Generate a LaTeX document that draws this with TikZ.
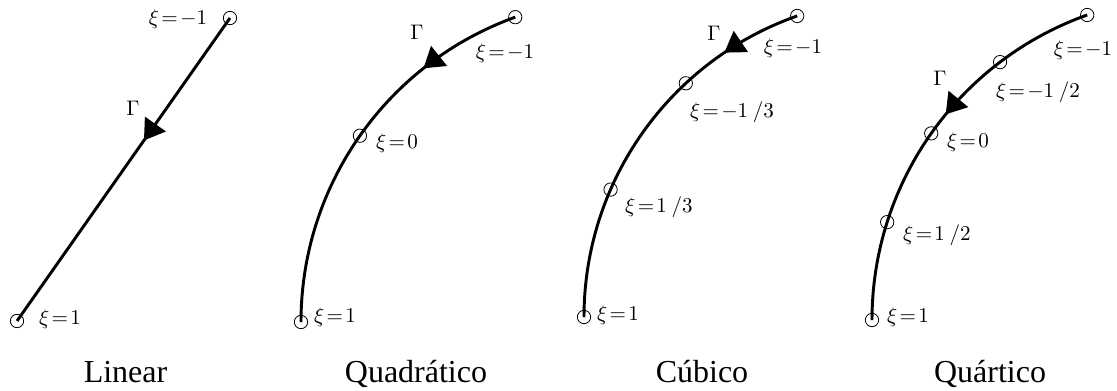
\documentclass[tikz,border=0pt]{standalone}
\usepackage{fontspec}
\newfontfamily\capfont{Liberation Serif}
\usetikzlibrary{arrows.meta,decorations.markings,calc}
\newcommand{\xeq}[1]{$\xi\mkern2mu{=}\mkern2mu#1$}
\newcommand{\fr}[2]{#1\mkern4mu/#2}
\begin{document}
\begin{tikzpicture}[x=0.75pt,y=-0.75pt,
  pt/.style={circle,draw,line width=0.6pt,inner sep=0pt,minimum size=10pt},
  curve/.style={line width=2.2pt},
  lbl/.style={font=\normalsize,inner sep=0pt,scale=1.58},
  captxt/.style={font=\capfont\fontsize{24}{28}\selectfont,anchor=base,inner sep=0pt},
  tri/.style={postaction={decorate},decoration={markings,mark=at position #1 with {\arrow{Triangle[length=15pt,width=18.75pt]}}}}
]
\useasboundingbox (0,0) rectangle (1117,390);

% ---------- Linear ----------
\node[pt] (a1) at (230,18) {};
\node[pt] (a0) at (17,321) {};
\draw[curve,tri=0.404] (a1.center) -- (a0.center);
\node[lbl] (la1) at (178,19) {\xeq{{-}1}};
\node[lbl] (la0) at (60,319) {\xeq{1}};
\node[lbl] (ga) at (133,108) {$\Gamma$};
\node[captxt] (ca) at (125.5,382) {Linear};

% ---------- Quadratico ----------
\coordinate (c2) at (625,322);
\node[pt] (b1) at ([shift={(250.2:324)}]c2) {};
\node[pt] (bm) at ([shift={(215.1:324)}]c2) {};
\node[pt] (b0) at ([shift={(180:324)}]c2) {};
\draw[curve,tri=0.266] (b1.center) arc[start angle=250.2,end angle=180,radius=324];
\node[lbl] (lb1) at (505,53) {\xeq{{-}1}};
\node[lbl] (lbm) at (397,143) {\xeq{0}};
\node[lbl] (lb0) at (335,317) {\xeq{1}};
\node[lbl] (gb) at (417,32) {$\Gamma$};
\node[captxt] (cb) at (416,382) {Quadrático};

% ---------- Cubico ----------
\coordinate (c3) at (903.2,317);
\node[pt] (d1) at ([shift={(250.6:319.2)}]c3) {};
\node[pt] (dm1) at ([shift={(227.07:319.2)}]c3) {};
\node[pt] (dm2) at ([shift={(203.53:319.2)}]c3) {};
\node[pt] (d0) at ([shift={(180:319.2)}]c3) {};
\draw[curve,tri=0.208] (d1.center) arc[start angle=250.6,end angle=180,radius=319.2];
\node[lbl] (ld1) at (793,48) {\xeq{{-}1}};
\node[lbl] (ldm1) at (732,112) {\xeq{{-}\fr{1}{3}}};
\node[lbl] (ldm2) at (659,207) {\xeq{\fr{1}{3}}};
\node[lbl] (ld0) at (618,315) {\xeq{1}};
\node[lbl] (gd) at (714,33) {$\Gamma$};
\node[captxt] (cd) at (702,382) {Cúbico};

% ---------- Quartico ----------
\coordinate (c4) at (1195.8,320);
\node[pt] (e1) at ([shift={(250.4:323.8)}]c4) {};
\node[pt] (em1) at ([shift={(232.8:323.8)}]c4) {};
\node[pt] (em2) at ([shift={(215.2:323.8)}]c4) {};
\node[pt] (em3) at ([shift={(197.6:323.8)}]c4) {};
\node[pt] (e0) at ([shift={(180:323.8)}]c4) {};
\draw[curve,tri=0.44] (e1.center) arc[start angle=250.4,end angle=180,radius=323.8];
\node[lbl] (le1) at (1083,50) {\xeq{{-}1}};
\node[lbl] (lem1) at (1038,92) {\xeq{{-}\fr{1}{2}}};
\node[lbl] (lem2) at (968,142) {\xeq{0}};
\node[lbl] (lem3) at (937,235) {\xeq{\fr{1}{2}}};
\node[lbl] (le0) at (908,317) {\xeq{1}};
\node[lbl] (ge) at (940,78) {$\Gamma$};
\node[captxt] (ce) at (990,382) {Quártico};
\end{tikzpicture}
\end{document}
